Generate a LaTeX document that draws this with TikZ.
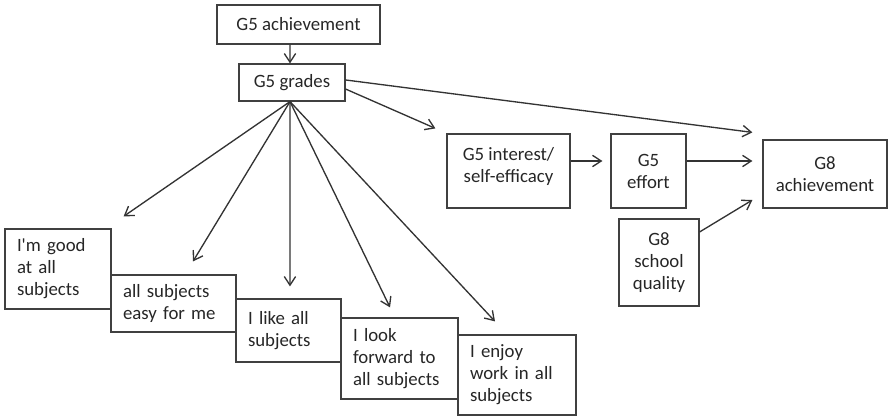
\documentclass[tikz,border=0pt]{standalone}
\usepackage{fontspec}
\setmainfont{Carlito}
\usetikzlibrary{arrows.meta}
\begin{document}
\begin{tikzpicture}[x=0.75pt,y=-0.75pt,
  font=\fontsize{14.1}{16.5}\selectfont,
  box/.style={draw=black!75, line width=0.9pt, text=black!85, inner sep=0pt, align=center},
  lbox/.style={box, inner xsep=9pt, align=left},
  caption/.style={text=black!85, inner sep=0pt, align=center},
  link/.style={draw=black!80, line width=1pt, -{Straight Barb[length=6.5pt,width=8.5pt]}}
]
\useasboundingbox (0,0) rectangle (889,417);

% upper chain
\node[box, minimum width=122.25pt, minimum height=29.25pt] (ach5) at (298.5,24.5) {G5 achievement};
\node[box, minimum width=79.5pt, minimum height=27.75pt] (grades) at (292,82.5) {G5 grades};
\node[box, minimum width=92.25pt, minimum height=55.5pt] (interest) at (508.5,171) {};
\node[caption] (interesttext) at (508.5,166) {G5 interest/\\self-efficacy};
\node[box, minimum width=56.25pt, minimum height=55.5pt] (effort) at (648.5,171) {G5\\effort};
\node[box, minimum width=93pt, minimum height=51pt] (ach8) at (825,174) {G8\\achievement};
\node[box, minimum width=60pt, minimum height=65.25pt] (school) at (659,262.5) {G8\\school\\quality};

% staircase of attitude items
\node[lbox, minimum width=79.5pt, minimum height=60pt, text width=61.5pt] (b1) at (58,269) {I\textquotesingle m good\\at all\\subjects};
\node[lbox, minimum width=93.75pt, minimum height=42.75pt, text width=75.75pt] (b2) at (173.5,303.5) {all subjects\\easy for me};
\node[lbox, minimum width=78.75pt, minimum height=47.25pt, text width=60.75pt] (b3) at (288.5,330.5) {I like all\\subjects};
\node[lbox, minimum width=87.75pt, minimum height=60.75pt, text width=69.75pt] (b4) at (399.5,358.5) {I look\\forward to\\all subjects};
\node[lbox, minimum width=88.5pt, minimum height=60pt, text width=70.5pt] (b5) at (517,375) {I enjoy\\work in all\\subjects};

% connectors
\draw[link] ([xshift=-6.4pt]ach5.south) -- ([xshift=-1.5pt]grades.north);
\draw[link] ([yshift=-4.9pt]grades.east) -- ([xshift=-8.25pt,yshift=3.75pt]interest.north west);
\draw[link] ([yshift=1.9pt]grades.east) -- ([xshift=-7.5pt,yshift=5.25pt]ach8.north west);
\draw[link, shorten >=6pt] ([yshift=7.5pt]interest.east) -- ([yshift=7.5pt]effort.west);
\draw[link, shorten >=7.5pt] ([yshift=7.5pt]effort.east) -- ([yshift=9.75pt]ach8.west);
\draw[link] ([yshift=22.9pt]school.east) -- ([xshift=-7.5pt,yshift=-19.5pt]ach8.west);

\draw[link] ([xshift=-1.5pt]grades.south) -- ([xshift=9pt,yshift=9pt]b1.north east);
\draw[link] ([xshift=-1.5pt]grades.south) -- ([xshift=14.6pt,yshift=9.75pt]b2.north);
\draw[link] ([xshift=-1.5pt]grades.south) -- ([xshift=1.1pt,yshift=9pt]b3.north);
\draw[link] ([xshift=-1.5pt]grades.south) -- ([xshift=-7.1pt,yshift=7.5pt]b4.north);
\draw[link] ([xshift=-1.5pt]grades.south) -- ([xshift=-16.5pt,yshift=9.75pt]b5.north);
\end{tikzpicture}
\end{document}
